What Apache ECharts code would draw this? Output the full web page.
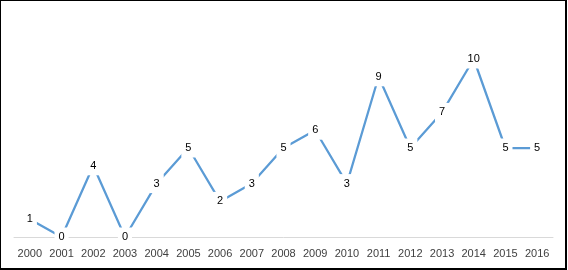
<!DOCTYPE html>
<html>
<head>
<meta charset="utf-8">
<script src="https://cdn.jsdelivr.net/npm/echarts@6/dist/echarts.min.js"></script>
<style>
  html, body { margin: 0; padding: 0; background: #fff; }
  #wrap { position: relative; width: 568px; height: 270px; }
  #chart { width: 568px; height: 270px; }
  #frame {
    position: absolute; left: 0; top: 0; width: 567px; height: 270px;
    box-sizing: border-box; border-style: solid; border-color: #000;
    border-width: 1px 2px 2px 1px; pointer-events: none;
  }
</style>
</head>
<body>
<div id="wrap">
  <div id="chart"></div>
  <div id="frame"></div>
</div>
<script>
const years = ['2000', '2001', '2002', '2003', '2004', '2005', '2006', '2007', '2008',
  '2009', '2010', '2011', '2012', '2013', '2014', '2015', '2016'];
const counts = [1, 0, 4, 0, 3, 5, 2, 3, 5, 6, 3, 9, 5, 7, 10, 5, 5];

const myChart = echarts.init(document.getElementById('chart'));

const option = {
  animation: false,
  grid: { left: 14, right: 15, top: 59, bottom: 33 },
  xAxis: {
    type: 'category',
    data: years,
    boundaryGap: true,
    axisLine: { lineStyle: { color: '#d9d9d9', width: 1 } },
    axisTick: { show: false },
    axisLabel: {
      color: '#404040',
      fontFamily: 'Liberation Sans, Arial, sans-serif',
      fontSize: 11,
      margin: 11,
      interval: 0
    }
  },
  yAxis: {
    type: 'value',
    min: 0,
    max: 10,
    show: false,
    splitLine: { show: false }
  },
  series: [
    {
      type: 'line',
      data: counts,
      symbol: 'circle',
      symbolSize: 0,
      showSymbol: true,
      lineStyle: { color: '#5b9bd5', width: 2.25 },
      itemStyle: { color: '#5b9bd5' },
      label: {
        show: true,
        position: 'inside',
        color: '#000',
        fontFamily: 'Liberation Sans, Arial, sans-serif',
        fontSize: 11,
        backgroundColor: '#fff',
        padding: [4, 4]
      },
      z: 3
    }
  ]
};

myChart.setOption(option);
</script>
</body>
</html>
